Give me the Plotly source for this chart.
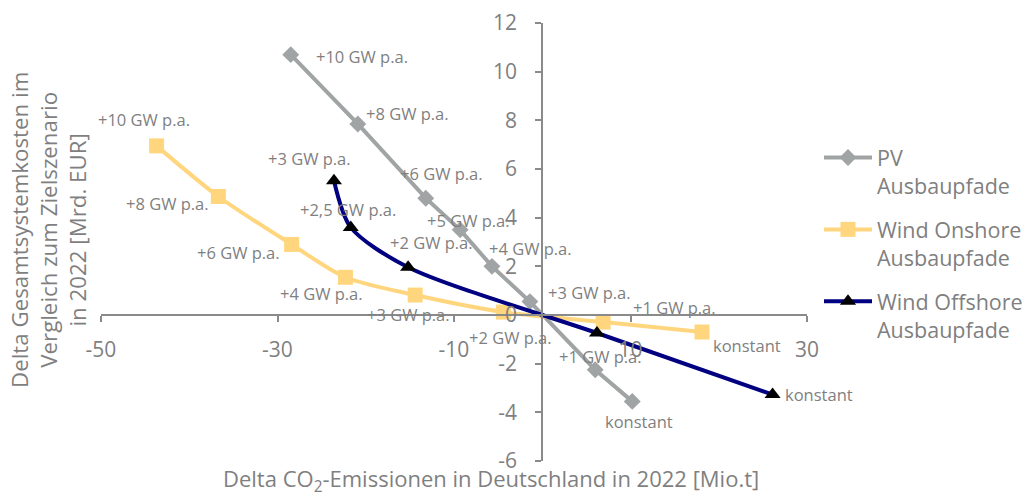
import plotly.graph_objects as go

# ---- data ----
pv_x = [-28.5, -20.9, -13.2, -9.3, -5.7, -1.4, 6.0, 10.2]
pv_y = [10.7, 7.85, 4.8, 3.5, 2.0, 0.55, -2.25, -3.55]
pv_labels = ["+10 GW p.a.", "+8 GW p.a.", "+6 GW p.a.", "+5 GW p.a.", "+4 GW p.a.",
             "+3 GW p.a.", "+1 GW p.a.", "konstant"]

on_x = [-43.7, -36.7, -28.4, -22.3, -14.4, -4.4, 6.9, 18.1]
on_y = [6.95, 4.87, 2.9, 1.55, 0.82, 0.12, -0.29, -0.70]
on_labels = ["+10 GW p.a.", "+8 GW p.a.", "+6 GW p.a.", "+4 GW p.a.", "+3 GW p.a.",
             "+2 GW p.a.", "+1 GW p.a.", "konstant"]

off_x = [-23.6, -21.7, -15.2, 6.2, 26.1]
off_y = [5.52, 3.6, 1.96, -0.74, -3.27]
off_labels = ["+3 GW p.a.", "+2,5 GW p.a.", "+2 GW p.a.", "", "konstant"]

series_names = ["PV<br>Ausbaupfade", "Wind Onshore<br>Ausbaupfade", "Wind Offshore<br>Ausbaupfade"]

x_ticks = [-50, -30, -10, 10, 30]
x_ticktext = ["-50", "-30", "-10", "10", "30"]
y_ticks = [-6, -4, -2, 0, 2, 4, 6, 8, 10, 12]
y_ticktext = ["-6", "-4", "-2", "0", "2", "4", "6", "8", "10", "12"]

x_title = "Delta CO<sub>2</sub>-Emissionen in Deutschland in 2022 [Mio.t]"
y_title = "Delta Gesamtsystemkosten im<br>Vergleich zum Zielszenario<br>in 2022 [Mrd. EUR]"

x_range = [-50, 30]
y_range = [-6, 12]

# ---- style ----
FONT = "Open Sans"
TXT = "#7f7f7f"
AX = "#8a8a8a"
W, H = 1027, 497
ML, MR, MT, MB = 101, 220, 23, 36
PW, PH = W - ML - MR, H - MT - MB

# label pixel offsets (style only)
pv_off = [(71, -2), (50, 10), (16, 25), (8, 9), (39, 18), (60, 9), (5, 13), (7, -20)]
on_off = [(-13, 26), (-51, -7), (-53, -8), (-24, -16), (-7, -19), (7, -25), (71, 15), (45, -13)]
off_off = [(-24, 22), (-3, 18), (23, 25), (0, 0), (46, 0)]

fig = go.Figure()

fig.add_trace(go.Scatter(
    x=pv_x, y=pv_y, mode="lines+markers", name=series_names[0],
    line=dict(color="#a0a4a4", width=4),
    marker=dict(symbol="diamond", size=13, color="#a0a4a4"),
    legendgroup="pv", hoverinfo="skip"))

fig.add_trace(go.Scatter(
    x=on_x, y=on_y, mode="lines+markers", name=series_names[1],
    line=dict(color="#ffd67e", width=4, shape="spline", smoothing=0.8),
    marker=dict(symbol="square", size=15, color="#ffd67e"),
    legendgroup="on", hoverinfo="skip"))

fig.add_trace(go.Scatter(
    x=off_x, y=off_y, mode="lines+markers", name=series_names[2],
    line=dict(color="#000080", width=4, shape="spline", smoothing=0.8),
    marker=dict(symbol="triangle-up", size=14, color="#000000"),
    legendgroup="off", hoverinfo="skip"))

annotations = []
for xs, ys, labs, offs in [(pv_x, pv_y, pv_labels, pv_off),
                           (on_x, on_y, on_labels, on_off),
                           (off_x, off_y, off_labels, off_off)]:
    for xv, yv, lab, (dx, dy) in zip(xs, ys, labs, offs):
        if not lab:
            continue
        annotations.append(dict(
            x=xv, y=yv, xref="x", yref="y", text=lab, showarrow=False,
            xanchor="center", yanchor="middle", xshift=dx, yshift=dy,
            font=dict(family=FONT, size=16.5, color=TXT)))

# axis titles placed in pixel terms (converted to paper fractions)
annotations.append(dict(
    x=(491 - ML) / PW, y=(H - MB - 480) / PH, xref="paper", yref="paper",
    text=x_title, showarrow=False, xanchor="center", yanchor="middle",
    font=dict(family=FONT, size=22, color=TXT)))
annotations.append(dict(
    x=(48 - ML) / PW, y=(H - MB - 230) / PH, xref="paper", yref="paper",
    text=y_title, showarrow=False, textangle=-90,
    xanchor="center", yanchor="middle",
    font=dict(family=FONT, size=22.3, color=TXT)))

axis_common = dict(showgrid=False, zeroline=False, showline=True, linecolor=AX,
                   linewidth=2, ticks="outside", ticklen=6, tickwidth=2,
                   tickcolor=AX, anchor="free", automargin=False,
                   tickfont=dict(family=FONT, size=21, color=TXT))

fig.update_layout(
    width=W, height=H,
    margin=dict(l=ML, r=MR, t=MT, b=MB, pad=0, autoexpand=False),
    paper_bgcolor="white", plot_bgcolor="white",
    font=dict(family=FONT, color=TXT),
    showlegend=True,
    legend=dict(
        xref="container", yref="container",
        x=819 / W, y=1 - 137 / H, xanchor="left", yanchor="top",
        font=dict(family=FONT, size=21.5, color=TXT),
        valign="top", traceorder="grouped", tracegroupgap=13,
        itemwidth=48, bgcolor="rgba(0,0,0,0)"),
    xaxis=dict(range=x_range, tickmode="array", tickvals=x_ticks, ticktext=x_ticktext,
               position=(0 - y_range[0]) / (y_range[1] - y_range[0]),
               ticklabelstandoff=10, **axis_common),
    yaxis=dict(range=y_range, tickmode="array", tickvals=y_ticks, ticktext=y_ticktext,
               position=(0 - x_range[0]) / (x_range[1] - x_range[0]),
               ticklabelstandoff=14, **axis_common),
    annotations=annotations,
)

fig.write_html("out.html", config={"displayModeBar": False},
               post_script="document.body.style.margin='0';")
